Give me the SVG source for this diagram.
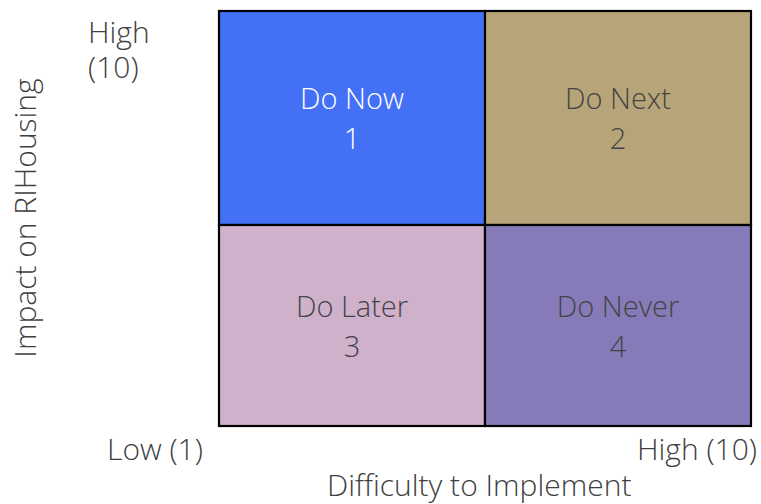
<svg xmlns="http://www.w3.org/2000/svg" width="761" height="504" viewBox="0 0 761 504">
<style>
.q{stroke:#000;stroke-width:2.2}
.lbl{font-family:"Open Sans","Noto Sans",sans-serif;font-weight:300;font-size:29px;text-anchor:middle;fill:#444}
.w{fill:#fff}
.ax{font-family:"Open Sans","Noto Sans",sans-serif;font-weight:300;font-size:30px;fill:#404040}
</style>
<rect width="761" height="504" fill="#fff"/>
<g id="q1"><rect class="q" x="219" y="11" width="266" height="214" fill="#4470F5"/>
<text class="lbl w" x="352" y="109">Do Now</text><text class="lbl w" x="352" y="149">1</text></g>
<g id="q2"><rect class="q" x="485" y="11" width="266" height="214" fill="#B8A479"/>
<text class="lbl" x="618" y="109">Do Next</text><text class="lbl" x="618" y="149">2</text></g>
<g id="q3"><rect class="q" x="219" y="225" width="266" height="201" fill="#D0B1CC"/>
<text class="lbl" x="352" y="317">Do Later</text><text class="lbl" x="352" y="357">3</text></g>
<g id="q4"><rect class="q" x="485" y="225" width="266" height="201" fill="#867BB8"/>
<text class="lbl" x="618" y="317">Do Never</text><text class="lbl" x="618" y="357">4</text></g>
<g id="axes">
<text class="ax" x="88" y="43">High</text>
<text class="ax" x="88" y="78">(10)</text>
<text class="ax" x="107" y="460">Low (1)</text>
<text class="ax" x="757" y="460" text-anchor="end">High (10)</text>
<text class="ax" x="327" y="496">Difficulty to Implement</text>
<text class="ax" transform="translate(36,218) rotate(-90)" text-anchor="middle">Impact on RIHousing</text>
</g>
</svg>
